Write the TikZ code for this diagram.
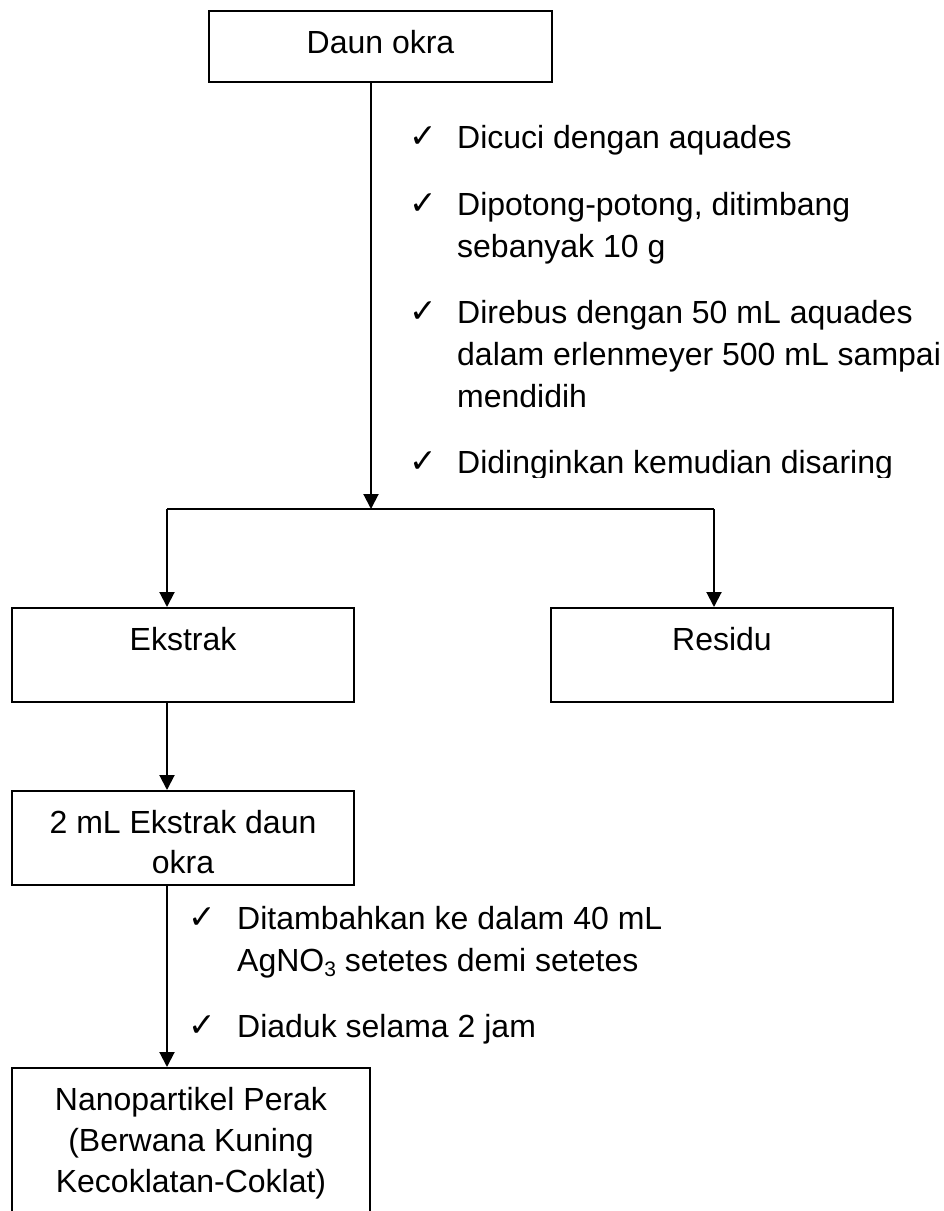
\documentclass[tikz,border=0pt]{standalone}
\usepackage{fontspec}
\setmainfont{Liberation Sans}
\newfontfamily\tickfont{DejaVu Sans}
\usetikzlibrary{arrows.meta}
\begin{document}
\begin{tikzpicture}[x=1pt,y=-1pt,
  box/.style={draw,line width=2pt,inner sep=0pt,rectangle},
  txt/.style={inner sep=0pt,anchor=base,font=\fontsize{32}{40}\selectfont},
  item/.style={inner sep=0pt,anchor=base west,font=\fontsize{32}{40}\selectfont},
  tick/.style={inner sep=0pt,anchor=base west,font=\tickfont\fontsize{33}{33}\selectfont},
  link/.style={line width=2pt},
  arr/.style={link,-{Triangle[width=15pt,length=15pt]}}]

\clip (0,0) rectangle (944,1211);
\fill[white] (0,0) rectangle (944,1211);

% process boxes
\node[box,minimum width=343pt,minimum height=71pt] (daun) at (380.5,46.5) {};
\node[txt] (daunT) at (380.5,53) {Daun okra};

\node[box,minimum width=342pt,minimum height=94pt] (ekstrak) at (183,655) {};
\node[txt] (ekstrakT) at (183,650) {Ekstrak};

\node[box,minimum width=342pt,minimum height=94pt] (residu) at (722,655) {};
\node[txt] (residuT) at (722,650) {Residu};

\node[box,minimum width=342pt,minimum height=94pt] (ekstrak2) at (183,838) {};
\node[txt] (ekstrak2a) at (183,833) {2 mL Ekstrak daun};
\node[txt] (ekstrak2b) at (183,873) {okra};

\node[box,minimum width=358pt,minimum height=182pt] (nano) at (191,1159) {};
\node[txt] (nanoA) at (191,1110) {Nanopartikel Perak};
\node[txt] (nanoB) at (191,1151) {(Berwana Kuning};
\node[txt] (nanoC) at (191,1192) {Kecoklatan-Coklat)};

% junctions of the split
\coordinate (jT) at (371,509);
\coordinate (jL) at (167,509);
\coordinate (jR) at (714,509);

% connectors
\draw[arr] (jT |- daun.south) -- (jT);
\draw[link] (jL) -- (jR);
\draw[arr] (jL) -- (jL |- ekstrak.north);
\draw[arr] (jR) -- (jR |- residu.north);
\draw[arr] (jL |- ekstrak.south) -- (jL |- ekstrak2.north);
\draw[arr] (jL |- ekstrak2.south) -- (jL |- nano.north);

% steps for the extract preparation
\node[tick] (t1) at (409,147) {✓};
\node[item] (s1) at (457,148) {Dicuci dengan aquades};
\node[tick] (t2) at (409,214) {✓};
\node[item] (s2a) at (457,215) {Dipotong-potong, ditimbang};
\node[item] (s2b) at (457,257) {sebanyak 10 g};
\node[tick] (t3) at (409,322) {✓};
\node[item] (s3a) at (457,323) {Direbus dengan 50 mL aquades};
\node[item] (s3b) at (457,365) {dalam erlenmeyer 500 mL sampai};
\node[item] (s3c) at (457,407) {mendidih};
\begin{scope}
  \clip (380,430) rectangle (944,477);
  \node[tick] (t4) at (409,472) {✓};
  \node[item] (s4) at (457,473) {Didinginkan kemudian disaring};
\end{scope}

% steps for the synthesis
\node[tick] (t5) at (188,928) {✓};
\node[item] (s5a) at (237,929) {Ditambahkan ke dalam 40 mL};
\node[item] (s5b) at (237,971) {AgNO\raisebox{-0.16em}{\fontsize{21}{21}\selectfont 3} setetes demi setetes};
\node[tick] (t6) at (188,1036) {✓};
\node[item] (s6) at (237,1037) {Diaduk selama 2 jam};
\end{tikzpicture}
\end{document}
